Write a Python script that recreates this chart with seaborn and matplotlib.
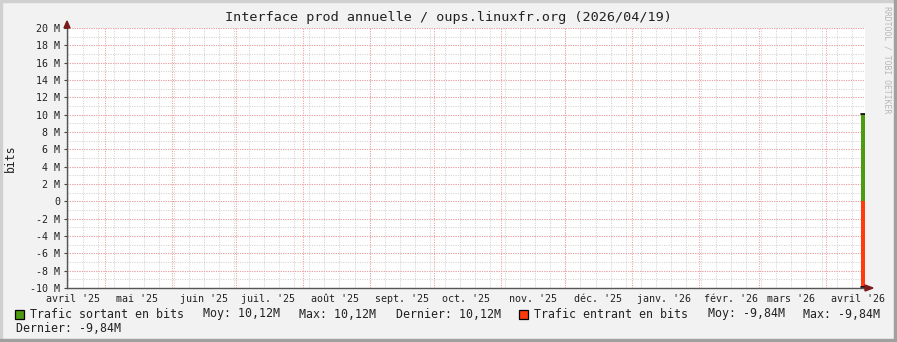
import matplotlib
matplotlib.use("Agg")
import matplotlib.pyplot as plt
import seaborn as sns
import pandas as pd
import numpy as np
from matplotlib.patches import Rectangle, Polygon

# ---------------- data ----------------
title = "Interface prod annuelle / oups.linuxfr.org (2026/04/19)"
times = ["2026-04-17 08:00", "2026-04-19 04:00"]
out_bits = [10.12e6, 10.12e6]      # Trafic sortant
in_bits = [-9.84e6, -9.84e6]       # Trafic entrant
series_names = ["Trafic sortant en bits", "Trafic entrant en bits"]
month_labels = ["avril '25", "mai '25", "juin '25", "juil. '25", "août '25",
                "sept. '25", "oct. '25", "nov. '25", "déc. '25", "janv. '26",
                "févr. '26", "mars '26", "avril '26"]
y_ticks_M = list(range(-10, 21, 2))
x_start, x_end = "2025-04-13 09:00", "2026-04-19 05:00"

GREEN = "#4E9A12"
RED = "#FF3A0C"

sns.set_theme(style="white")
plt.rcParams["font.family"] = ["DejaVu Sans Mono", "DejaVu Sans"]

W, H = 897, 342
fig = plt.figure(figsize=(W / 100, H / 100), dpi=100)
fig.patch.set_facecolor("#F2F2F2")

# border shading
fig.patches.append(Rectangle((0, 0), 2 / W, 1, transform=fig.transFigure, color="#D0D0D0", zorder=0))
fig.patches.append(Rectangle((0, 1 - 2 / H), 1, 2 / H, transform=fig.transFigure, color="#D0D0D0", zorder=0))
fig.patches.append(Rectangle((1 - 3 / W, 0), 3 / W, 1, transform=fig.transFigure, color="#A0A0A0", zorder=0))
fig.patches.append(Rectangle((0, 0), 1, 3 / H, transform=fig.transFigure, color="#A0A0A0", zorder=0))

L, R, T, B = 67, 865, 28, 288
ax = fig.add_axes([L / W, (H - B) / H, (R - L) / W, (B - T) / H])
ax.set_facecolor("white")

t = pd.to_datetime(times)
x0, x1 = pd.Timestamp(x_start), pd.Timestamp(x_end)
ax.set_xlim(x0, x1)
ax.set_ylim(-10e6, 20e6)

# grid: minor (weekly / 1M) gray, major (monthly / 2M) red
MINC, MAJC = "#D2D2D2", "#F29C9C"
DASH = (0, (1, 1.3))
for d in pd.date_range("2025-04-14", x1, freq="7D"):
    ax.axvline(d, color=MINC, lw=0.75, ls=DASH, zorder=1)
for v in range(-10, 21):
    ax.axhline(v * 1e6, color=MINC, lw=0.75, ls=DASH, zorder=1)
months = pd.date_range("2025-05-01", x1, freq="MS")
for d in months:
    ax.axvline(d, color=MAJC, lw=0.75, ls=DASH, zorder=2)
for v in y_ticks_M:
    ax.axhline(v * 1e6, color=MAJC, lw=0.75, ls=DASH, zorder=2)

# data areas
ax.fill_between(t, 0, out_bits, color=GREEN, lw=0, zorder=3)
ax.fill_between(t, 0, in_bits, color=RED, lw=0, zorder=3)
sns.lineplot(x=t, y=out_bits, color="black", lw=1.2, ax=ax, zorder=4)
sns.lineplot(x=t, y=in_bits, color="black", lw=1.2, ax=ax, zorder=4)

# ticks
ax.set_yticks([v * 1e6 for v in y_ticks_M])
ax.set_yticklabels([("0" if v == 0 else f"{v} M") for v in y_ticks_M], fontsize=7.2, color="#222222")
mid = [pd.Timestamp(year=d.year, month=d.month, day=16) for d in pd.date_range("2025-04-01", "2026-04-01", freq="MS")]
ax.set_xticks(mid)
ax.set_xticklabels(month_labels, fontsize=7.2, color="#222222")
ax.tick_params(axis="x", length=0, pad=4)
ax.tick_params(axis="y", length=2, width=0.8, color="#444444", pad=3, left=True)
ax.set_xlabel("")
ax.set_ylabel("")
fig.text(10 / W, 1 - 158 / H, "bits", rotation=90, ha="center", va="center", fontsize=8.3, color="#222222")

for s in ["top", "right"]:
    ax.spines[s].set_visible(False)
for s in ["left", "bottom"]:
    ax.spines[s].set_color("#555555")
    ax.spines[s].set_linewidth(1.0)
    ax.spines[s].set_zorder(5)

# arrows
def fpx(x, y):
    return (x / W, 1 - y / H)
fig.patches.append(Polygon([fpx(64, 28), fpx(70, 28), fpx(67, 21)], closed=True,
                           transform=fig.transFigure, color="#7A1A1A", zorder=6))
fig.patches.append(Polygon([fpx(865, 285), fpx(865, 291), fpx(873, 288)], closed=True,
                           transform=fig.transFigure, color="#7A1A1A", zorder=6))

# title & watermark
fig.text(448 / W, 1 - 18 / H, title, ha="center", va="center", fontsize=9.7, color="#222222")
fig.text(887 / W, 1 - 60 / H, "RRDTOOL / TOBI OETIKER", ha="center", va="center", rotation=270,
         fontsize=5.9, color="#B8B8B8")

# legend
def fmt(v):
    return f"{v / 1e6:.2f}M".replace(".", ",")

def stats(vals):
    a = np.array(vals)
    return fmt(a.mean()), fmt(a.max()), fmt(a[-1])

LFS = 8.4
col = "#222222"
ry1, ry2 = 1 - 314 / H, 1 - 328 / H
sq = 9
for xs, c in [(15, GREEN), (519, RED)]:
    fig.patches.append(Rectangle((xs / W, 1 - 318.5 / H), sq / W, sq / H, transform=fig.transFigure,
                                 facecolor=c, edgecolor="black", lw=0.9, zorder=6))
m, mx, last = stats(out_bits)
fig.text(30 / W, ry1, series_names[0], va="center", fontsize=LFS, color=col)
fig.text(203 / W, ry1, f"Moy: {m}", va="center", fontsize=LFS, color=col)
fig.text(299 / W, ry1, f"Max: {mx}", va="center", fontsize=LFS, color=col)
fig.text(396 / W, ry1, f"Dernier: {last}", va="center", fontsize=LFS, color=col)
m, mx, last = stats(in_bits)
fig.text(534 / W, ry1, series_names[1], va="center", fontsize=LFS, color=col)
fig.text(708 / W, ry1, f"Moy: {m}", va="center", fontsize=LFS, color=col)
fig.text(803 / W, ry1, f"Max: {fmt(max(in_bits))}", va="center", fontsize=LFS, color=col)
fig.text(16 / W, ry2, f"Dernier: {last}", va="center", fontsize=LFS, color=col)

fig.savefig("out.png", dpi=100, facecolor=fig.get_facecolor())
